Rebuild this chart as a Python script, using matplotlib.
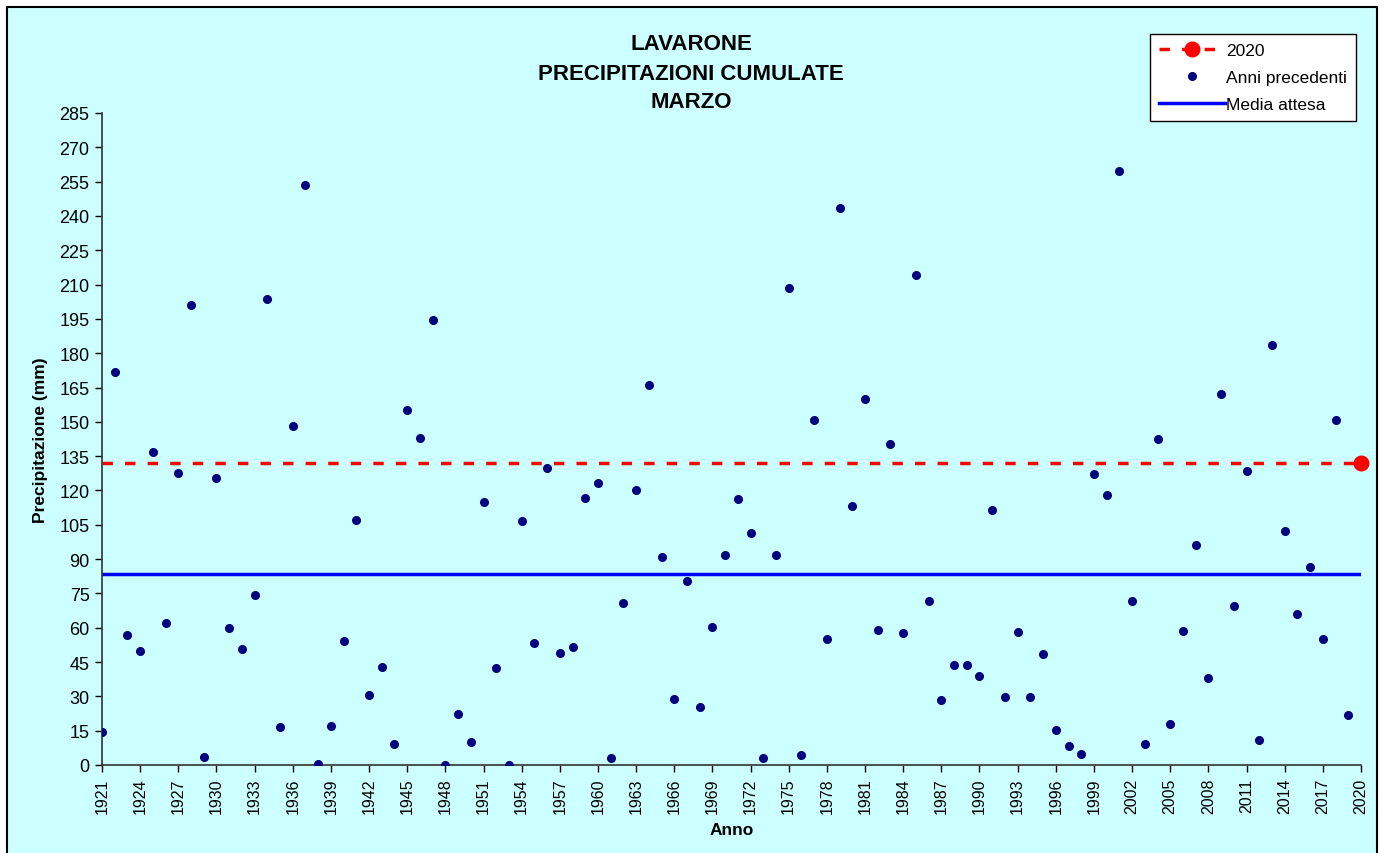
import numpy as np
import matplotlib
matplotlib.use("Agg")
import matplotlib.pyplot as plt
from matplotlib.patches import Rectangle
from matplotlib.lines import Line2D

plt.rcParams['font.family'] = ['Liberation Sans', 'DejaVu Sans']

# data
anni = list(range(1921, 2020))
precip = [14.5, 172, 57, 50, 137, 62, 127.6, 201, 3.4, 125.3,
          59.7, 50.6, 74.2, 203.7, 16.5, 148.3, 253.4, 0.4, 16.9, 54.3,
          106.9, 30.7, 43, 9.2, 155.2, 143.1, 194.6, 0, 22.3, 10.2,
          115.1, 42.4, 0, 106.5, 53.5, 130, 49.1, 51.6, 116.7, 123.4,
          2.9, 70.8, 120.1, 166.2, 91, 29, 80.4, 25.2, 60.2, 91.7,
          116.1, 101.5, 2.9, 91.7, 208.5, 4.4, 150.8, 54.9, 243.3, 113.2,
          160, 58.9, 140.2, 57.8, 214.3, 71.7, 28.4, 43.8, 43.8, 39,
          111.3, 29.9, 58.3, 29.6, 48.5, 15.3, 8.3, 4.8, 127.2, 118,
          259.6, 71.7, 9.2, 142.5, 17.8, 58.7, 96.3, 38, 162.3, 69.4,
          128.6, 11.1, 183.5, 102.1, 66, 86.4, 54.9, 150.8, 21.7]
anno_2020 = 2020
valore_2020 = 132
media_attesa = 83.6

bg = '#CCFFFF'

fig = plt.figure(figsize=(13.85, 8.54), dpi=100)
fig.patch.set_facecolor('white')
# chart area with black border
fig.patches.append(Rectangle((7 / 1385, -0.01), 1370 / 1385, 1 - 8 / 854 + 0.01,
                             transform=fig.transFigure, facecolor=bg,
                             edgecolor='black', linewidth=1.5, zorder=-1))

ax = fig.add_axes([102 / 1385, (854 - 766) / 854, (1361 - 102) / 1385, (766 - 114) / 854])
ax.set_facecolor(bg)

ax.axhline(valore_2020, color='red', linestyle=(0, (3, 3.5)), linewidth=2.5, zorder=2)
ax.plot([anni[0], anno_2020], [media_attesa, media_attesa], color='blue', linewidth=2.5, zorder=2)
ax.plot(anni, precip, linestyle='none', marker='o', markersize=5.5, color='#000080', zorder=3)
ax.plot([anno_2020], [valore_2020], linestyle='none', marker='o', markersize=10.5,
        color='red', clip_on=False, zorder=4)

ax.set_xlim(1921, 2020)
ax.set_ylim(0, 285)
ax.set_yticks(np.arange(0, 286, 15))
ax.set_xticks(np.arange(1921, 2021, 3))
ax.set_xticklabels([str(a) for a in range(1921, 2021, 3)], rotation=90, fontsize=11.5)
ax.tick_params(axis='y', labelsize=13, direction='out', length=5, width=1, pad=4)
ax.tick_params(axis='x', direction='out', length=5, width=1, pad=4)

for s in ['top', 'right']:
    ax.spines[s].set_visible(False)
for s in ['left', 'bottom']:
    ax.spines[s].set_color('#333333')
    ax.spines[s].set_linewidth(1.2)

ax.set_ylabel('Precipitazione (mm)', fontsize=12.5, fontweight='bold', labelpad=8)
ax.set_xlabel('Anno', fontsize=12.5, fontweight='bold', labelpad=6)

fig.text(0.499, 1 - 45 / 854, 'LAVARONE', ha='center', va='center', fontsize=16, fontweight='bold')
fig.text(0.499, 1 - 74 / 854, 'PRECIPITAZIONI CUMULATE', ha='center', va='center', fontsize=16, fontweight='bold')
fig.text(0.499, 1 - 103 / 854, 'MARZO', ha='center', va='center', fontsize=16, fontweight='bold')

handles = [
    Line2D([], [], color='red', linestyle=(0, (3, 3.5)), linewidth=2.5, marker='o', markersize=10.5),
    Line2D([], [], linestyle='none', marker='o', markersize=5.5, color='#000080'),
    Line2D([], [], color='blue', linewidth=2.5),
]
leg = fig.legend(handles, ['2020', 'Anni precedenti', 'Media attesa'],
                 loc='upper left', bbox_to_anchor=(1150 / 1385, 1 - 35 / 854),
                 fontsize=12.5, frameon=True, fancybox=False, framealpha=1,
                 edgecolor='black', handlelength=3.8, handletextpad=0.1,
                 borderpad=0.5, labelspacing=0.7, borderaxespad=0)
leg.get_frame().set_linewidth(1)

fig.savefig('out.png', dpi=100, facecolor=fig.get_facecolor())
